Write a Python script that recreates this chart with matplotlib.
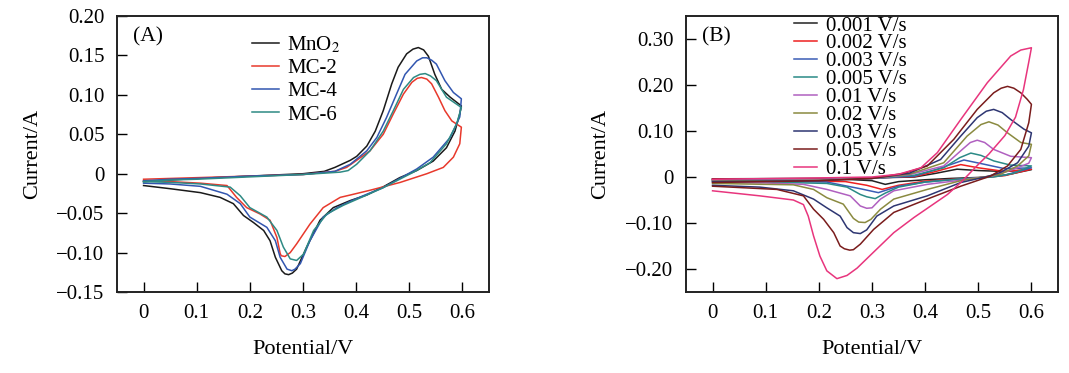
import matplotlib
matplotlib.use("Agg")
import matplotlib.pyplot as plt

plt.rcParams["font.family"] = ["Liberation Serif", "DejaVu Serif"]
plt.rcParams["mathtext.fontset"] = "stix"

# ---------------- panel A: CV of the four electrodes ----------------
A_LABELS = ["MnO$_2$", "MC-2", "MC-4", "MC-6"]
A_COLORS = ["#1a1a1a", "#e8392c", "#3256b0", "#2e8a84"]

# each curve: anodic sweep 0 -> 0.6 V then cathodic sweep 0.6 -> 0 V
mno2_E = [0, 0.05, 0.1, 0.2, 0.3, 0.34, 0.36, 0.389, 0.401, 0.42, 0.436, 0.451, 0.467, 0.479, 0.495, 0.507,
          0.517, 0.527, 0.536, 0.548, 0.561, 0.577, 0.598,
          0.595, 0.586, 0.57, 0.545, 0.514, 0.482, 0.45, 0.42, 0.389, 0.357, 0.332, 0.307, 0.288, 0.28, 0.273,
          0.266, 0.26, 0.248, 0.238, 0.226, 0.207, 0.188, 0.169, 0.144, 0.107, 0.05, 0]
mno2_I = [-0.010, -0.008, -0.006, -0.003, 0.0, 0.003, 0.008, 0.017, 0.022, 0.035, 0.054, 0.080, 0.114, 0.135,
          0.152, 0.158, 0.160, 0.157, 0.149, 0.126, 0.107, 0.097, 0.086,
          0.076, 0.054, 0.033, 0.016, 0.004, -0.005, -0.017, -0.027, -0.034, -0.043, -0.059, -0.093, -0.121,
          -0.126, -0.128, -0.127, -0.123, -0.106, -0.085, -0.072, -0.062, -0.053, -0.038, -0.030, -0.024,
          -0.019, -0.015]

mc2_E = [0, 0.05, 0.1, 0.2, 0.3, 0.36, 0.382, 0.401, 0.426, 0.451, 0.47, 0.489, 0.505, 0.515, 0.523, 0.533,
         0.542, 0.555, 0.567, 0.58, 0.598,
         0.595, 0.583, 0.564, 0.533, 0.483, 0.426, 0.389, 0.37, 0.338, 0.313, 0.288, 0.276, 0.266, 0.259, 0.257,
         0.251, 0.238, 0.219, 0.194, 0.175, 0.157, 0.107, 0.05, 0]
mc2_I = [-0.007, -0.006, -0.005, -0.003, -0.001, 0.003, 0.008, 0.017, 0.029, 0.050, 0.076, 0.101, 0.116,
         0.121, 0.122, 0.120, 0.114, 0.097, 0.080, 0.067, 0.059,
         0.038, 0.021, 0.008, 0.0, -0.011, -0.021, -0.027, -0.030, -0.043, -0.064, -0.089, -0.100, -0.105,
         -0.104, -0.101, -0.081, -0.059, -0.051, -0.043, -0.030, -0.015, -0.012, -0.010, -0.009]

mc4_E = [0, 0.05, 0.1, 0.2, 0.3, 0.36, 0.389, 0.42, 0.439, 0.457, 0.476, 0.492, 0.514, 0.525, 0.533, 0.542,
         0.551, 0.567, 0.583, 0.598,
         0.595, 0.577, 0.545, 0.514, 0.482, 0.45, 0.42, 0.389, 0.364, 0.338, 0.313, 0.295, 0.285, 0.279, 0.27,
         0.257, 0.248, 0.232, 0.2, 0.182, 0.157, 0.107, 0.05, 0]
mc4_I = [-0.009, -0.007, -0.006, -0.003, -0.001, 0.003, 0.012, 0.029, 0.046, 0.071, 0.101, 0.126, 0.143,
         0.147, 0.147, 0.144, 0.139, 0.118, 0.103, 0.095,
         0.072, 0.046, 0.021, 0.006, -0.006, -0.018, -0.026, -0.035, -0.043, -0.055, -0.085, -0.114, -0.121,
         -0.123, -0.121, -0.106, -0.085, -0.068, -0.055, -0.038, -0.026, -0.016, -0.013, -0.012]

mc6_E = [0, 0.05, 0.1, 0.2, 0.3, 0.37, 0.385, 0.401, 0.426, 0.451, 0.47, 0.489, 0.508, 0.52, 0.53, 0.54,
         0.551, 0.57, 0.598,
         0.589, 0.57, 0.539, 0.508, 0.482, 0.45, 0.42, 0.376, 0.345, 0.32, 0.301, 0.288, 0.276, 0.263, 0.251,
         0.232, 0.2, 0.182, 0.163, 0.107, 0.05, 0]
mc6_I = [-0.010, -0.008, -0.007, -0.004, -0.001, 0.002, 0.004, 0.012, 0.029, 0.054, 0.080, 0.107, 0.122,
         0.126, 0.127, 0.124, 0.118, 0.097, 0.084,
         0.063, 0.038, 0.014, 0.002, -0.007, -0.018, -0.027, -0.040, -0.051, -0.072, -0.102, -0.110, -0.108,
         -0.093, -0.072, -0.055, -0.043, -0.028, -0.017, -0.013, -0.011, -0.010]

A_E = [mno2_E, mc2_E, mc4_E, mc6_E]
A_I = [mno2_I, mc2_I, mc4_I, mc6_I]

# ---------------- panel B: scan-rate series ----------------
B_LABELS = ["0.001 V/s", "0.002 V/s", "0.003 V/s", "0.005 V/s", "0.01 V/s",
            "0.02 V/s", "0.03 V/s", "0.05 V/s", "0.1 V/s"]
B_COLORS = ["#222222", "#ee2020", "#3a5cb5", "#2a8a86", "#b060c0",
            "#8a8a40", "#2e3672", "#7a1c1c", "#e8357d"]

r001_E = [0, 0.2, 0.3, 0.38, 0.42, 0.46, 0.5, 0.55, 0.6,
          0.55, 0.5, 0.45, 0.4, 0.35, 0.325, 0.3, 0.25, 0.1, 0]
r001_I = [-0.004, -0.003, -0.002, 0.0, 0.008, 0.017, 0.014, 0.012, 0.016,
          0.004, -0.001, -0.003, -0.006, -0.010, -0.016, -0.008, -0.005, -0.004, -0.004]

r002_E = [0, 0.2, 0.3, 0.38, 0.42, 0.467, 0.5, 0.55, 0.6,
          0.55, 0.5, 0.45, 0.4, 0.35, 0.319, 0.29, 0.25, 0.1, 0]
r002_I = [-0.005, -0.004, -0.002, 0.001, 0.012, 0.027, 0.020, 0.012, 0.017,
          0.003, -0.002, -0.005, -0.009, -0.018, -0.027, -0.018, -0.010, -0.007, -0.006]

r003_E = [0, 0.2, 0.3, 0.38, 0.42, 0.473, 0.51, 0.55, 0.6,
          0.55, 0.5, 0.45, 0.4, 0.35, 0.312, 0.28, 0.215, 0.1, 0]
r003_I = [-0.006, -0.005, -0.003, 0.002, 0.016, 0.037, 0.028, 0.018, 0.020,
          0.004, -0.002, -0.006, -0.011, -0.020, -0.034, -0.026, -0.011, -0.009, -0.008]

r005_E = [0, 0.2, 0.3, 0.38, 0.435, 0.465, 0.486, 0.505, 0.529, 0.56, 0.6,
          0.567, 0.529, 0.467, 0.4, 0.35, 0.325, 0.306, 0.29, 0.278, 0.253, 0.215, 0.1, 0]
r005_I = [-0.007, -0.006, -0.003, 0.004, 0.020, 0.042, 0.052, 0.047, 0.035, 0.026, 0.024,
          0.008, 0.0, -0.004, -0.011, -0.022, -0.035, -0.047, -0.043, -0.038, -0.022, -0.014, -0.011, -0.010]

r01_E = [0, 0.2, 0.3, 0.37, 0.435, 0.47, 0.485, 0.498, 0.512, 0.529, 0.561, 0.6,
         0.595, 0.567, 0.529, 0.467, 0.404, 0.341, 0.316, 0.3, 0.29, 0.278, 0.259, 0.215, 0.171, 0.1, 0]
r01_I = [-0.008, -0.006, -0.003, 0.005, 0.024, 0.060, 0.075, 0.080, 0.075, 0.060, 0.045, 0.042,
         0.030, 0.017, 0.003, -0.007, -0.016, -0.030, -0.048, -0.067, -0.068, -0.063, -0.041, -0.027, -0.016,
         -0.013, -0.012]

r02_E = [0, 0.2, 0.3, 0.37, 0.435, 0.479, 0.505, 0.52, 0.537, 0.555, 0.58, 0.6,
         0.595, 0.574, 0.542, 0.5, 0.467, 0.404, 0.341, 0.316, 0.298, 0.287, 0.275, 0.265, 0.246, 0.215, 0.19,
         0.152, 0]
r02_I = [-0.009, -0.007, -0.003, 0.006, 0.031, 0.089, 0.114, 0.120, 0.113, 0.096, 0.075, 0.071,
         0.046, 0.024, 0.006, -0.002, -0.008, -0.027, -0.048, -0.070, -0.092, -0.099, -0.098, -0.090, -0.059,
         -0.045, -0.027, -0.017, -0.014]

r03_E = [0, 0.2, 0.3, 0.37, 0.429, 0.467, 0.498, 0.515, 0.529, 0.545, 0.561, 0.586, 0.6,
         0.595, 0.574, 0.542, 0.517, 0.467, 0.404, 0.341, 0.309, 0.29, 0.278, 0.265, 0.253, 0.24, 0.215, 0.19,
         0.152, 0.089, 0]
r03_I = [-0.010, -0.008, -0.003, 0.008, 0.038, 0.089, 0.129, 0.143, 0.147, 0.140, 0.125, 0.104, 0.096,
         0.067, 0.031, 0.010, 0.001, -0.012, -0.041, -0.063, -0.085, -0.115, -0.123, -0.121, -0.110, -0.085,
         -0.067, -0.048, -0.030, -0.022, -0.018]

r05_E = [0, 0.2, 0.3, 0.36, 0.404, 0.454, 0.498, 0.529, 0.543, 0.555, 0.567, 0.58, 0.592, 0.6,
         0.595, 0.58, 0.555, 0.523, 0.467, 0.404, 0.341, 0.303, 0.278, 0.265, 0.258, 0.248, 0.24, 0.228, 0.209,
         0.19, 0.171, 0.121, 0]
r05_I = [-0.012, -0.008, -0.003, 0.008, 0.024, 0.082, 0.147, 0.183, 0.193, 0.197, 0.193, 0.183, 0.169, 0.158,
         0.118, 0.060, 0.024, 0.002, -0.020, -0.048, -0.077, -0.114, -0.146, -0.158, -0.159, -0.156, -0.150,
         -0.121, -0.092, -0.070, -0.041, -0.027, -0.020]

r1_E = [0, 0.2, 0.3, 0.35, 0.392, 0.423, 0.467, 0.517, 0.561, 0.58, 0.6,
        0.595, 0.585, 0.57, 0.55, 0.52, 0.498, 0.467, 0.442, 0.379, 0.341, 0.297, 0.272, 0.253, 0.234, 0.215,
        0.202, 0.19, 0.18, 0.171, 0.152, 0.089, 0]
r1_I = [-0.005, -0.002, 0.0, 0.006, 0.020, 0.053, 0.125, 0.205, 0.263, 0.276, 0.281,
        0.250, 0.190, 0.130, 0.090, 0.050, 0.025, -0.012, -0.038, -0.088, -0.121, -0.170, -0.198, -0.214,
        -0.221, -0.204, -0.172, -0.128, -0.085, -0.060, -0.050, -0.041, -0.030]

B_E = [r001_E, r002_E, r003_E, r005_E, r01_E, r02_E, r03_E, r05_E, r1_E]
B_I = [r001_I, r002_I, r003_I, r005_I, r01_I, r02_I, r03_I, r05_I, r1_I]

X_TICKS = [0, 0.1, 0.2, 0.3, 0.4, 0.5, 0.6]
X_TICKLABELS = ["0", "0.1", "0.2", "0.3", "0.4", "0.5", "0.6"]
A_YTICKS = [-0.15, -0.10, -0.05, 0, 0.05, 0.10, 0.15, 0.20]
A_YTICKLABELS = ["\u22120.15", "\u22120.10", "\u22120.05", "0", "0.05", "0.10", "0.15", "0.20"]
B_YTICKS = [-0.20, -0.10, 0, 0.10, 0.20, 0.30]
B_YTICKLABELS = ["\u22120.20", "\u22120.10", "0", "0.10", "0.20", "0.30"]


def style_axes(ax, yticks, yticklabels, ylim, tag, ylab_x):
    ax.set_xlim(-0.05, 0.65)
    ax.set_ylim(*ylim)
    ax.set_xticks(X_TICKS, labels=X_TICKLABELS)
    ax.set_yticks(yticks, labels=yticklabels)
    ax.tick_params(direction="in", length=7, width=1.0, labelsize=15, pad=9)
    for sp in ax.spines.values():
        sp.set_linewidth(1.4)
        sp.set_color("#222222")
    ax.set_xlabel("Potential/V", fontsize=16)
    ax.set_ylabel("Current/A", fontsize=16)
    ax.xaxis.set_label_coords(0.5, -0.175)
    ax.yaxis.set_label_coords(ylab_x, 0.5)
    ax.text(0.043, 0.925, tag, transform=ax.transAxes, fontsize=15.5, va="center", ha="left")


fig = plt.figure(figsize=(10.69, 3.73), dpi=100)
axA = fig.add_axes([117 / 1069, 81 / 373, 372 / 1069, 276 / 373])
axB = fig.add_axes([686 / 1069, 81 / 373, 372 / 1069, 276 / 373])

for E, I, c, lab in zip(A_E, A_I, A_COLORS, A_LABELS):
    axA.plot(E, I, color=c, lw=1.1, label=lab)
style_axes(axA, A_YTICKS, A_YTICKLABELS, (-0.15, 0.20), "(A)", -0.2)
axA.legend(loc="upper left", bbox_to_anchor=(0.362, 0.933), frameon=False, fontsize=15,
           handlelength=1.33, handletextpad=0.37, labelspacing=0.17, borderpad=0, borderaxespad=0)

for E, I, c, lab in zip(B_E, B_I, B_COLORS, B_LABELS):
    axB.plot(E, I, color=c, lw=1.1, label=lab)
style_axes(axB, B_YTICKS, B_YTICKLABELS, (-0.25, 0.35), "(B)", -0.205)
axB.legend(loc="upper left", bbox_to_anchor=(0.29, 1.0), frameon=False, fontsize=15,
           handlelength=1.1, handletextpad=0.43, labelspacing=-0.08, borderpad=0, borderaxespad=0)

fig.savefig("out.png", dpi=100)
